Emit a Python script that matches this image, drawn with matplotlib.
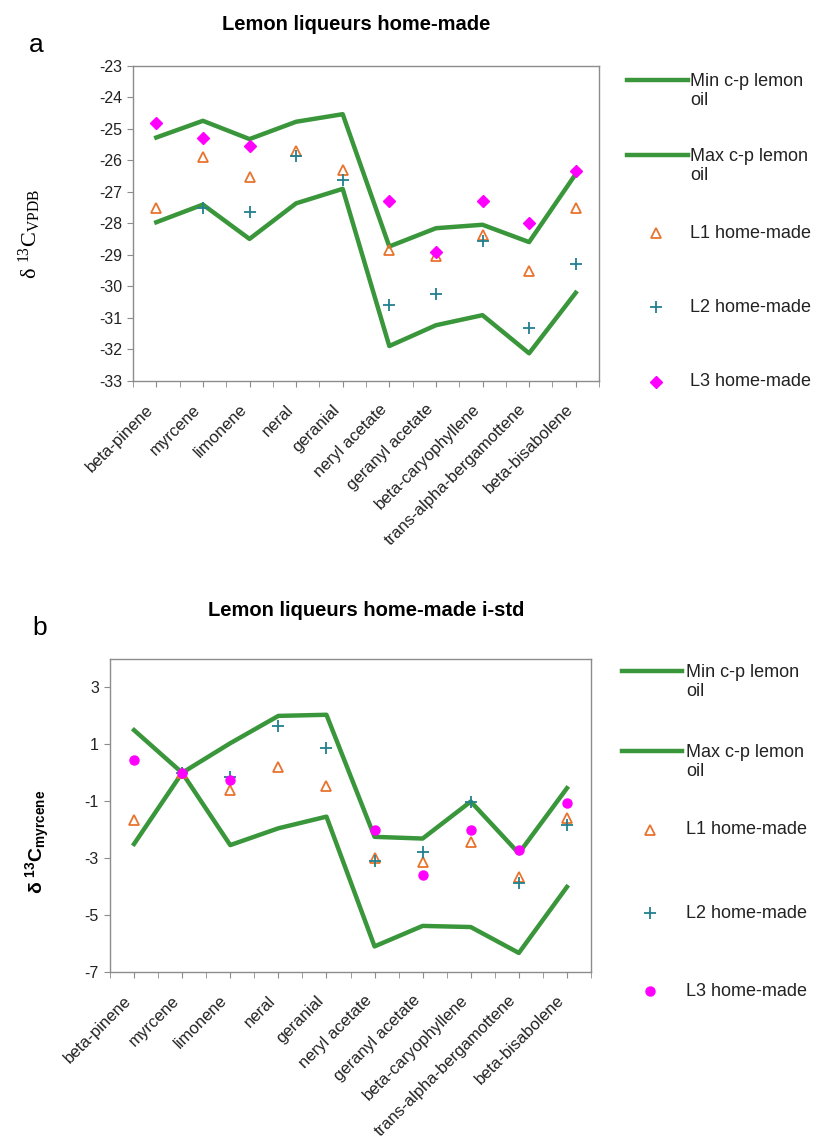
import matplotlib
matplotlib.use("Agg")
import matplotlib.pyplot as plt
import matplotlib.transforms as mtransforms
import numpy as np
from matplotlib.lines import Line2D

plt.rcParams['font.family'] = ['Liberation Sans', 'DejaVu Sans']
plt.rcParams['mathtext.fontset'] = 'custom'
plt.rcParams['mathtext.rm'] = 'Liberation Serif'
plt.rcParams['mathtext.it'] = 'Liberation Serif:italic'
plt.rcParams['mathtext.bf'] = 'Liberation Sans:bold'

compounds = ["beta-pinene", "myrcene", "limonene", "neral", "geranial",
             "neryl acetate", "geranyl acetate", "beta-caryophyllene",
             "trans-alpha-bergamottene", "beta-bisabolene"]

# panel a: delta 13C vs VPDB
min_a = [-27.96, -27.40, -28.49, -27.36, -26.90, -31.89, -31.23, -30.91, -32.12, -30.20]
max_a = [-25.27, -24.74, -25.32, -24.77, -24.53, -28.73, -28.15, -28.04, -28.59, -26.43]
l1_a = [-27.50, -25.90, -26.53, -25.69, -26.30, -28.85, -29.04, -28.35, -29.52, -27.50]
l2_a = [np.nan, -27.51, -27.64, -25.85, -26.62, -30.59, -30.25, -28.54, -31.33, -29.30]
l3_a = [-24.81, -25.27, -25.54, np.nan, np.nan, -27.27, -28.89, -27.27, -27.99, -26.32]

# panel b: delta 13C vs myrcene (internal standard)
min_b = [1.50, 0.0, -2.54, -1.95, -1.54, -6.10, -5.38, -5.42, -6.33, -4.01]
max_b = [-2.50, 0.0, 1.04, 2.00, 2.04, -2.25, -2.31, -1.01, -2.83, -0.54]
l1_b = [-1.66, 0.0, -0.60, 0.19, -0.45, -3.01, -3.13, -2.42, -3.65, -1.60]
l2_b = [np.nan, 0.0, -0.13, 1.65, 0.86, -3.09, -2.77, -1.04, -3.87, -1.84]
l3_b = [0.45, 0.0, -0.25, np.nan, np.nan, -2.01, -3.60, -2.01, -2.72, -1.07]

GREEN = '#3a963a'
ORANGE = '#e8732e'
TEAL = '#23808f'
MAGENTA = '#ff00ff'

W, H = 814, 1143
fig = plt.figure(figsize=(W / 100, H / 100), dpi=100)


def fx(x):
    return x / W


def fy(y):
    return 1 - y / H


def make_axes(left, top, right, bottom):
    return fig.add_axes([fx(left), fy(bottom), (right - left) / W, (bottom - top) / H])


def draw_panel(ax, lo, hi, l1, l2, l3, l3_marker, l3_ms, ylim, yticks):
    x = np.arange(len(compounds))
    ax.plot(x, lo, color=GREEN, lw=3.2)
    ax.plot(x, hi, color=GREEN, lw=3.2)
    ax.plot(x, l1, ls='none', marker='^', ms=7, mfc='none', mec=ORANGE, mew=1.3)
    ax.plot(x, l2, ls='none', marker='+', ms=9, mec=TEAL, mew=1.3)
    ax.plot(x, l3, ls='none', marker=l3_marker, ms=l3_ms, mfc=MAGENTA, mec=MAGENTA)
    ax.set_xlim(-0.5, len(compounds) - 0.5)
    ax.set_ylim(*ylim)
    ax.set_yticks(yticks)
    ax.set_yticklabels([str(v) for v in yticks])
    ax.set_xticks(x)
    ax.set_xticks(np.arange(-0.5, len(compounds)), minor=True)
    ax.set_xticklabels(compounds, rotation=45, ha='right', va='top')
    shift = mtransforms.ScaledTranslation(-6 / 100, 0, fig.dpi_scale_trans)
    for lab in ax.get_xticklabels():
        lab.set_transform(lab.get_transform() + shift)
    for s in ax.spines.values():
        s.set_color('#8c8c8c')
        s.set_linewidth(1.0)
    ax.tick_params(axis='x', which='both', length=4, color='#8c8c8c', pad=11,
                   labelsize=12, labelcolor='#222222')
    ax.tick_params(axis='y', length=4, color='#8c8c8c', pad=4,
                   labelsize=11.5, labelcolor='#222222')


def draw_legend(entries, line_x0, line_x1, text_x, l3_marker, l3_ms):
    mx = (line_x0 + line_x1) / 2 - 2
    for kind, y, label in entries:
        if kind == 'line':
            fig.add_artist(Line2D([fx(line_x0), fx(line_x1)], [fy(y), fy(y)],
                                  color=GREEN, lw=3.2))
            fig.text(fx(text_x), fy(y + 11), label, fontsize=13, va='center',
                     ha='left', color='#222222', linespacing=1.2)
            continue
        if kind == 'L1':
            h = Line2D([fx(mx)], [fy(y)], marker='^', ms=7, mfc='none', mec=ORANGE, mew=1.3)
        elif kind == 'L2':
            h = Line2D([fx(mx)], [fy(y)], marker='+', ms=9, mec=TEAL, mew=1.3)
        else:
            h = Line2D([fx(mx)], [fy(y)], marker=l3_marker, ms=l3_ms, mfc=MAGENTA, mec=MAGENTA)
        fig.add_artist(h)
        fig.text(fx(text_x), fy(y), label, fontsize=13, va='center', ha='left',
                 color='#222222')


# ---- panel a ----
ax_a = make_axes(133, 66, 599, 381)
draw_panel(ax_a, min_a, max_a, l1_a, l2_a, l3_a, 'D', 6, (-33, -23), list(range(-23, -34, -1)))
fig.text(fx(356), fy(24), "Lemon liqueurs home-made", fontsize=14.5, fontweight='bold',
         ha='center', va='center')
fig.text(fx(36), fy(45), "a", fontsize=19, ha='center', va='center')
fig.text(fx(30), fy(234), r'$\mathrm{\delta\ ^{13}C_{VPDB}}$', fontsize=16,
         rotation=90, ha='center', va='center')
draw_legend([('line', 80, "Min c-p lemon\noil"),
             ('line', 155, "Max c-p lemon\noil"),
             ('L1', 233, "L1 home-made"),
             ('L2', 307, "L2 home-made"),
             ('L3', 382, "L3 home-made")], 627, 688, 690, 'D', 6)

# ---- panel b ----
ax_b = make_axes(110, 659, 591, 972)
draw_panel(ax_b, min_b, max_b, l1_b, l2_b, l3_b, 'o', 6.5, (-7, 4), [3, 1, -1, -3, -5, -7])
fig.text(fx(366), fy(610), "Lemon liqueurs home-made i-std", fontsize=14.5, fontweight='bold',
         ha='center', va='center')
fig.text(fx(40), fy(628), "b", fontsize=19, ha='center', va='center')
fig.text(fx(38), fy(842), r'$\mathbf{\delta\ ^{13}C_{myrcene}}$', fontsize=14,
         rotation=90, ha='center', va='center')
draw_legend([('line', 671, "Min c-p lemon\noil"),
             ('line', 751, "Max c-p lemon\noil"),
             ('L1', 830, "L1 home-made"),
             ('L2', 913, "L2 home-made"),
             ('L3', 991, "L3 home-made")], 622, 682, 686, 'o', 6.5)

fig.savefig("out.png", dpi=100)
